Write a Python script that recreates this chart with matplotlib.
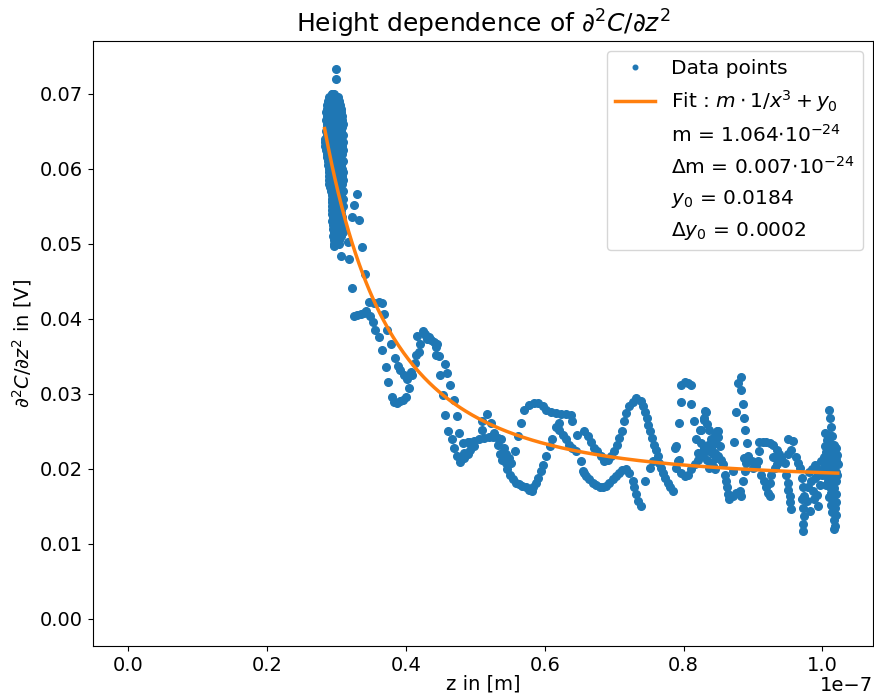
import numpy as np
import matplotlib.pyplot as plt

# fit result shown in the legend
m_fit = 1.064e-24
dm_fit = 0.007e-24
y0_fit = 0.0184
dy0_fit = 0.0002

# dense column of points at small heights: (signal level, [z in nm, ...])
cluster_rows = [
    (0.0700, [29.3, 29.7]),
    (0.0695, [29.0, 29.5, 30.2]),
    (0.0690, [28.8, 29.4, 30.4]),
    (0.0685, [28.7, 29.2, 29.8, 30.5]),
    (0.0680, [28.6, 29.1, 29.6, 30.1, 30.6]),
    (0.0675, [28.5, 29.0, 29.5, 30.0, 30.7]),
    (0.0670, [28.6, 29.2, 29.7, 30.3, 30.8]),
    (0.0665, [28.5, 29.0, 29.6, 30.1, 30.8]),
    (0.0660, [28.7, 29.3, 29.9, 30.5, 30.9]),
    (0.0655, [28.6, 29.1, 29.7, 30.2, 30.8]),
    (0.0650, [28.5, 29.0, 29.5, 30.0, 30.6]),
    (0.0645, [28.7, 29.3, 29.8, 30.4, 30.9]),
    (0.0640, [28.4, 28.9, 29.5, 30.1, 30.7]),
    (0.0635, [28.3, 28.8, 29.3, 29.9, 30.5, 30.9]),
    (0.0630, [28.4, 29.0, 29.6, 30.2, 30.8]),
    (0.0625, [28.5, 29.1, 29.7, 30.3, 30.9]),
    (0.0620, [28.6, 29.2, 29.8, 30.4, 30.8]),
    (0.0615, [28.7, 29.3, 29.9, 30.5]),
    (0.0610, [28.8, 29.4, 30.0, 30.6, 31.0]),
    (0.0605, [28.8, 29.5, 30.1, 30.7]),
    (0.0600, [28.9, 29.5, 30.2, 30.8]),
    (0.0595, [28.9, 29.6, 30.3, 30.9]),
    (0.0590, [29.0, 29.6, 30.2, 30.8]),
    (0.0585, [29.0, 29.7, 30.4, 30.9]),
    (0.0580, [29.0, 29.6, 30.3, 30.8]),
    (0.0575, [29.1, 29.8, 30.5]),
    (0.0570, [29.2, 29.8, 30.4, 30.9]),
    (0.0565, [29.3, 29.9, 30.6]),
    (0.0560, [29.3, 29.9, 30.5, 31.0]),
    (0.0555, [29.4, 30.0, 30.6]),
    (0.0550, [29.3, 29.9, 30.5, 30.9]),
    (0.0545, [29.4, 30.0, 30.7]),
    (0.0540, [29.4, 30.1, 30.6]),
    (0.0535, [29.5, 30.1, 30.8]),
    (0.0530, [29.4, 30.0, 30.6]),
    (0.0525, [29.5, 30.2, 30.8]),
    (0.0520, [29.5, 30.1, 30.7]),
    (0.0515, [29.6, 30.2, 30.9]),
    (0.0510, [29.5, 30.1, 30.6]),
    (0.0505, [29.6, 30.3]),
    (0.0500, [29.7, 30.4]),
]

# remaining points (z in nm, signal in V)
decay_pts = [
    (30.0, 0.0733), (29.9, 0.0720), (29.4, 0.0699), (30.3, 0.0688),
    (32.9, 0.0566), (32.6, 0.0552), (32.2, 0.0536), (33.3, 0.0531), (31.6, 0.0502),
    (29.6, 0.0497), (33.7, 0.0495), (30.6, 0.0483), (31.8, 0.0480), (34.1, 0.0459),
    (32.2, 0.0441),
    (34.7, 0.0422), (35.4, 0.0421), (36.1, 0.0422), (36.5, 0.0421),
    (32.5, 0.0404), (33.0, 0.0405), (33.5, 0.0406), (34.0, 0.0408), (34.3, 0.0410),
    (34.8, 0.0403), (35.3, 0.0395), (35.6, 0.0385), (36.1, 0.0376), (36.5, 0.0358),
    (37.1, 0.0336), (37.5, 0.0316),
    (38.0, 0.0295), (38.3, 0.0289), (38.7, 0.0288), (39.2, 0.0290), (39.6, 0.0292),
    (40.0, 0.0295), (40.4, 0.0307),
    (36.9, 0.0406), (37.3, 0.0385), (37.8, 0.0366), (38.4, 0.0348), (38.9, 0.0337),
    (39.2, 0.0331), (39.7, 0.0325), (40.2, 0.0320),
    (40.7, 0.0329), (40.9, 0.0325), (41.3, 0.0341), (41.4, 0.0352), (41.9, 0.0355),
    (42.1, 0.0366), (42.4, 0.0384), (41.6, 0.0377), (42.7, 0.0380), (43.4, 0.0375),
    (42.9, 0.0377), (43.1, 0.0373), (43.6, 0.0371), (44.1, 0.0369), (44.4, 0.0362),
    (44.5, 0.0366),
    (44.3, 0.0351), (44.8, 0.0350), (45.6, 0.0339), (45.9, 0.0327), (44.9, 0.0325),
    (46.4, 0.0312), (45.3, 0.0298), (46.9, 0.0291),
    (45.7, 0.0272), (47.3, 0.0270), (46.1, 0.0250), (47.7, 0.0248), (46.6, 0.0239),
    (46.9, 0.0227), (47.3, 0.0217), (47.8, 0.0209),
    (48.3, 0.0234), (48.9, 0.0235), (49.3, 0.0234), (48.4, 0.0221), (48.0, 0.0214),
]

wave_pts = [
    (48.4, 0.0214), (48.9, 0.0220), (49.3, 0.0225), (49.8, 0.0230),
    (49.1, 0.0236), (49.8, 0.0237), (50.5, 0.0240), (51.3, 0.0241), (52.0, 0.0242),
    (52.5, 0.0242), (53.2, 0.0241), (53.7, 0.0239),
    (51.0, 0.0263), (51.7, 0.0273), (52.2, 0.0261), (50.9, 0.0251), (52.7, 0.0247),
    (53.2, 0.0231), (53.6, 0.0220), (53.9, 0.0212), (54.4, 0.0207), (54.6, 0.0199),
    (55.0, 0.0192), (55.4, 0.0186), (55.8, 0.0181), (56.3, 0.0179), (56.8, 0.0177),
    (57.3, 0.0175), (57.8, 0.0172), (58.2, 0.0170),
    (54.2, 0.0228), (54.4, 0.0219), (54.9, 0.0214), (55.1, 0.0208), (55.7, 0.0224),
    (58.3, 0.0175), (58.7, 0.0181), (59.1, 0.0188), (59.5, 0.0197), (59.7, 0.0205),
    (60.2, 0.0217), (60.7, 0.0230), (61.1, 0.0239),
    (56.6, 0.0261), (56.1, 0.0243),
    (57.0, 0.0278), (57.8, 0.0285), (58.5, 0.0288), (59.1, 0.0287), (59.7, 0.0283),
    (60.2, 0.0278), (60.9, 0.0275), (61.6, 0.0274), (62.3, 0.0273), (63.1, 0.0273),
    (63.8, 0.0272), (64.0, 0.0263),
    (61.6, 0.0256), (62.1, 0.0252), (62.6, 0.0245), (63.1, 0.0239), (63.5, 0.0232),
    (64.0, 0.0228), (64.5, 0.0223), (62.1, 0.0261),
    (65.2, 0.0210), (65.7, 0.0194),
    (64.7, 0.0245), (65.7, 0.0250), (66.2, 0.0243), (66.7, 0.0236), (67.1, 0.0228),
    (67.6, 0.0223), (68.1, 0.0217), (68.6, 0.0210), (69.1, 0.0212), (69.6, 0.0217),
    (70.0, 0.0223), (70.4, 0.0232), (70.7, 0.0241), (71.1, 0.0250), (71.4, 0.0263),
    (71.7, 0.0274), (72.2, 0.0283), (72.7, 0.0289), (73.2, 0.0294),
    (65.5, 0.0197), (65.9, 0.0190), (66.4, 0.0186), (66.9, 0.0181), (67.4, 0.0178),
    (67.9, 0.0176), (68.4, 0.0175), (68.8, 0.0177), (69.3, 0.0181), (69.8, 0.0186),
    (70.3, 0.0190), (70.7, 0.0194), (71.2, 0.0198), (71.7, 0.0199), (72.2, 0.0194),
    (72.7, 0.0183), (72.9, 0.0175), (73.2, 0.0166), (73.4, 0.0157), (73.8, 0.0150),
    (73.8, 0.0290), (74.1, 0.0284), (74.5, 0.0276), (74.7, 0.0267), (74.9, 0.0258),
    (75.2, 0.0250), (75.4, 0.0241), (75.7, 0.0232), (76.0, 0.0225), (76.3, 0.0217),
    (76.5, 0.0208), (76.8, 0.0201), (77.0, 0.0194), (77.3, 0.0188), (77.7, 0.0181),
    (78.1, 0.0175), (78.5, 0.0170),
    (74.4, 0.0183), (75.1, 0.0201), (75.6, 0.0210),
    (79.7, 0.0311), (80.2, 0.0315), (80.7, 0.0314), (81.0, 0.0311), (79.6, 0.0289),
    (81.1, 0.0286), (79.3, 0.0261), (78.9, 0.0230), (79.4, 0.0212), (78.7, 0.0228),
    (79.2, 0.0210),
    (78.9, 0.0201), (79.7, 0.0194), (80.2, 0.0190), (80.6, 0.0192), (81.1, 0.0199),
    (81.6, 0.0206), (82.1, 0.0212), (82.5, 0.0219), (83.0, 0.0225), (83.5, 0.0232),
    (84.0, 0.0239), (84.5, 0.0245), (84.9, 0.0250),
    (81.5, 0.0263), (82.3, 0.0252), (83.0, 0.0265), (83.3, 0.0276), (82.5, 0.0252),
    (81.8, 0.0239), (82.5, 0.0234), (83.0, 0.0228), (83.7, 0.0223), (84.2, 0.0219),
    (84.7, 0.0214),
    (82.1, 0.0221), (82.8, 0.0217), (83.4, 0.0212), (83.9, 0.0208), (83.7, 0.0201),
    (84.2, 0.0203),
]

tail_pts = [
    (83.1, 0.0277), (82.9, 0.0267), (83.4, 0.0259), (83.7, 0.0252),
    (84.8, 0.0250), (85.0, 0.0242), (84.7, 0.0234), (85.3, 0.0230),
    (84.0, 0.0228), (84.5, 0.0221), (85.0, 0.0217), (85.4, 0.0212), (85.7, 0.0206),
    (84.5, 0.0199),
    (85.9, 0.0192), (86.1, 0.0183), (86.3, 0.0175), (86.4, 0.0166), (86.6, 0.0159),
    (87.1, 0.0164), (87.6, 0.0168), (88.1, 0.0170), (88.3, 0.0164),
    (87.1, 0.0197), (87.3, 0.0235), (87.6, 0.0275), (88.7, 0.0214),
    (88.2, 0.0322), (87.8, 0.0314), (88.3, 0.0305), (88.6, 0.0286), (88.7, 0.0268),
    (88.9, 0.0251), (89.1, 0.0234), (89.3, 0.0217), (89.0, 0.0208), (88.8, 0.0197),
    (88.6, 0.0184),
    (89.8, 0.0210), (90.0, 0.0201), (90.5, 0.0203), (90.7, 0.0210),
    (90.9, 0.0236), (91.4, 0.0235), (91.9, 0.0235), (92.4, 0.0234), (92.9, 0.0231),
    (93.4, 0.0225), (93.7, 0.0220), (94.1, 0.0214), (90.8, 0.0223),
    (91.2, 0.0192), (91.6, 0.0183), (91.9, 0.0175), (92.2, 0.0168), (92.4, 0.0164),
    (92.4, 0.0181),
    (92.6, 0.0192), (93.1, 0.0201), (93.5, 0.0206),
    (92.9, 0.0216), (93.5, 0.0214), (94.1, 0.0210), (94.6, 0.0208), (95.1, 0.0219),
    (95.5, 0.0225), (95.8, 0.0237), (96.2, 0.0216), (96.5, 0.0208), (96.7, 0.0201),
    (95.1, 0.0239),
    (94.8, 0.0192), (95.0, 0.0181), (95.1, 0.0172), (95.3, 0.0164), (95.3, 0.0155),
    (95.4, 0.0146),
    (97.0, 0.0188), (97.2, 0.0175), (97.0, 0.0159), (97.2, 0.0148), (97.4, 0.0137),
    (97.2, 0.0126), (97.2, 0.0117),
    (97.4, 0.0164), (97.9, 0.0175), (98.4, 0.0184), (98.9, 0.0188), (99.4, 0.0192),
    (99.9, 0.0192), (97.8, 0.0157), (98.2, 0.0144),
    (98.5, 0.0200), (99.0, 0.0205), (99.5, 0.0198), (98.7, 0.0170), (99.2, 0.0165),
    (99.6, 0.0178), (98.0, 0.0195), (99.8, 0.0210), (99.3, 0.0150), (98.8, 0.0160),
    # right edge column
    (101.0, 0.0278), (101.1, 0.0267), (101.2, 0.0256), (100.4, 0.0248), (100.8, 0.0245),
    (101.4, 0.0243), (100.6, 0.0238), (101.0, 0.0235), (101.6, 0.0232), (100.3, 0.0230),
    (100.9, 0.0228), (101.5, 0.0226), (102.0, 0.0228), (100.5, 0.0222), (101.1, 0.0220),
    (101.8, 0.0221), (102.1, 0.0218), (100.2, 0.0215), (100.8, 0.0214), (101.3, 0.0212),
    (101.9, 0.0211), (100.5, 0.0207), (101.0, 0.0205), (101.6, 0.0204), (102.2, 0.0206),
    (100.1, 0.0200), (100.7, 0.0198), (101.3, 0.0197), (101.9, 0.0196), (100.4, 0.0192),
    (101.0, 0.0190), (101.6, 0.0189), (102.1, 0.0191), (100.8, 0.0184), (101.4, 0.0182),
    (101.9, 0.0183), (100.5, 0.0178), (101.1, 0.0175), (101.7, 0.0174), (101.3, 0.0168),
    (101.9, 0.0166), (100.9, 0.0162), (101.5, 0.0158), (102.0, 0.0156), (101.2, 0.0152),
    (101.8, 0.0148), (101.4, 0.0142), (101.9, 0.0138), (101.6, 0.0132), (101.8, 0.0124),
    (101.7, 0.0120),
]

z_nm = []
signal = []
for level, zs in cluster_rows:
    for z in zs:
        z_nm.append(z)
        signal.append(level)
for z, s in decay_pts + wave_pts + tail_pts:
    z_nm.append(z)
    signal.append(s)

z = np.array(z_nm) * 1e-9
signal = np.array(signal)

z_fit = np.linspace(28.3e-9, 102.2e-9, 300)
fit = m_fit / z_fit**3 + y0_fit

plt.rcParams['font.size'] = 14
fig = plt.figure(figsize=(8.74, 6.97), dpi=100)
ax = fig.add_axes([0.106, 0.073, 0.893, 0.868])

ax.plot(z, signal, 'o', markersize=5.5, label='Data points')
ax.plot(z_fit, fit, '-', color='C1', linewidth=2.5, label=r'Fit : $m \cdot 1/x^3 + y_0$')
ax.plot([], [], ' ', label=r'm = 1.064$\cdot 10^{-24}$')
ax.plot([], [], ' ', label=r'$\Delta$m = 0.007$\cdot 10^{-24}$')
ax.plot([], [], ' ', label=r'$y_0$ = 0.0184')
ax.plot([], [], ' ', label=r'$\Delta y_0$ = 0.0002')

ax.set_xlim(-5.11e-9, 107.3e-9)
ax.set_ylim(-0.00367, 0.0770)
ax.set_title(r'Height dependence of $\partial^2C/\partial z^2$', fontsize=18)
ax.set_xlabel('z in [m]', labelpad=0)
ax.set_ylabel(r'$\partial^2C/\partial z^2$ in [V]')
ax.legend(loc='upper right', markerscale=0.6, fontsize=14.5)

# scale factor of the x axis, placed so it stays inside the figure
ax.xaxis.get_offset_text().set_visible(False)
ax.text(1.0, -0.050, '1e\u22127', transform=ax.transAxes, ha='right', va='top')

plt.savefig('out.png', dpi=100)
